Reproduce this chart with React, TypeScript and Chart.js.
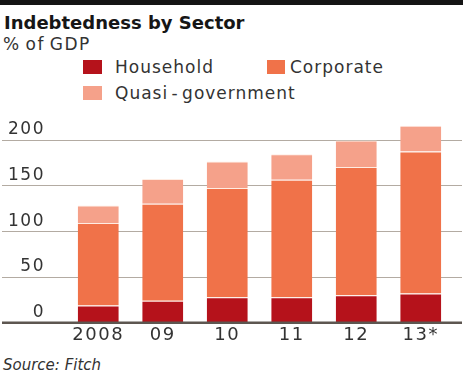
import { useEffect, useRef } from "react";
import { Chart, registerables } from "chart.js";

Chart.register(...registerables);

// ---- data ----
const categories = ["2008", "09", "10", "11", "12", "13*"];
const household = [19, 24, 28, 28, 30, 32];
const corporate = [90, 106, 119, 128, 140, 155];
const quasiGovernment = [19, 27, 29, 28, 29, 28];
const seriesLabels = ["Household", "Corporate", "Quasi - government"];
const yTickValues = [0, 50, 100, 150, 200];
const titleText = "Indebtedness by Sector";
const subtitleText = "% of GDP";
const sourceText = "Source: Fitch";

// ---- styles ----
const seriesColors = ["#b5121b", "#f07249", "#f5a18a"];
const FONT = "'DejaVu Sans', 'Liberation Sans', sans-serif";
const legendLayout = [
  { sx: 83, sy: 60, sw: 19, tx: 115, ty: 58.7 },
  { sx: 267, sy: 60, sw: 18, tx: 290, ty: 58.7 },
  { sx: 83, sy: 86, sw: 19, tx: 115, ty: 84.5 },
];

const gridPlugin = {
  id: "fullGrid",
  beforeDraw(chart: any) {
    chart.ctx.letterSpacing = "1.5px";
  },
  beforeDatasetsDraw(chart: any) {
    const { ctx } = chart;
    const y = chart.scales.y;
    ctx.save();
    ctx.letterSpacing = "0px";
    ctx.strokeStyle = "#b3aba2";
    ctx.lineWidth = 1;
    y.ticks.forEach((t: any) => {
      if (t.value === 0) return;
      const py = Math.round(y.getPixelForValue(t.value)) + 0.5;
      ctx.beginPath();
      ctx.moveTo(2, py);
      ctx.lineTo(462, py);
      ctx.stroke();
    });
    ctx.restore();
  },
  afterDatasetsDraw(chart: any) {
    const { ctx } = chart;
    const y = chart.scales.y;
    const py = y.getPixelForValue(0);
    ctx.save();
    ctx.strokeStyle = "#5d5650";
    ctx.lineWidth = 2.5;
    ctx.beginPath();
    ctx.moveTo(2, py);
    ctx.lineTo(462, py);
    ctx.stroke();
    ctx.restore();
  },
};

export default function App() {
  const canvasRef = useRef<HTMLCanvasElement | null>(null);

  useEffect(() => {
    if (!canvasRef.current) return;
    const seriesData = [household, corporate, quasiGovernment];
    const chart = new Chart(canvasRef.current, {
      type: "bar",
      data: {
        labels: categories,
        datasets: seriesData.map((d, i) => ({
          label: seriesLabels[i],
          data: d,
          backgroundColor: seriesColors[i],
          borderColor: "rgba(255,236,226,1)",
          borderWidth: { top: 1, left: 0, right: 0, bottom: 0 },
          borderSkipped: "start",
          barPercentage: 0.636,
          categoryPercentage: 1,
        })),
      },
      options: {
        responsive: false,
        maintainAspectRatio: false,
        animation: false,
        devicePixelRatio: 1,
        layout: { padding: { top: 4, right: 10, left: 0, bottom: 0 } },
        plugins: {
          legend: { display: false },
          title: { display: false },
          tooltip: { enabled: false },
        },
        scales: {
          x: {
            stacked: true,
            grid: { display: false, drawTicks: false },
            border: { display: false },
            ticks: {
              color: "#333333",
              font: { family: FONT, size: 18 },
              padding: 2,
              maxRotation: 0,
              autoSkip: false,
            },
            afterFit: (s: any) => {
              s.height = 30;
            },
          },
          y: {
            stacked: true,
            min: 0,
            max: 220,
            grid: { display: false, drawTicks: false },
            border: { display: false },
            ticks: {
              color: "#333333",
              font: { family: FONT, size: 17 },
              padding: 21,
              labelOffset: -10,
              includeBounds: false,
            },
            afterBuildTicks: (s: any) => {
              s.ticks = yTickValues.map((v) => ({ value: v }));
            },
            afterFit: (s: any) => {
              s.width = 66;
            },
          },
        },
      },
      plugins: [gridPlugin],
    } as any);
    return () => chart.destroy();
  }, []);

  const textBase: React.CSSProperties = {
    position: "absolute",
    fontFamily: FONT,
    lineHeight: 1,
    whiteSpace: "nowrap",
    margin: 0,
  };

  return (
    <div
      style={{
        position: "absolute",
        left: 0,
        top: 0,
        width: 463,
        height: 385,
        background: "#ffffff",
        overflow: "hidden",
      }}
    >
      <div style={{ position: "absolute", left: 0, top: 0, width: 463, height: 5, background: "#141414" }} />
      <div style={{ ...textBase, left: 4, top: 14, fontSize: 18, fontWeight: "bold", color: "#161616" }}>{titleText}</div>
      <div style={{ ...textBase, left: 3, top: 36.3, fontSize: 17, letterSpacing: "1.5px", wordSpacing: "-2px", color: "#333333" }}>{subtitleText}</div>
      {seriesLabels.map((lab, i) => (
        <div key={lab}>
          <div
            style={{
              position: "absolute",
              left: legendLayout[i].sx,
              top: legendLayout[i].sy,
              width: legendLayout[i].sw,
              height: 14,
              background: seriesColors[i],
            }}
          />
          <div
            style={{
              ...textBase,
              left: legendLayout[i].tx,
              top: legendLayout[i].ty,
              fontSize: 17,
              letterSpacing: "1px",
              wordSpacing: "-3px",
              color: "#333333",
            }}
          >
            {lab}
          </div>
        </div>
      ))}
      <div style={{ position: "absolute", left: 0, top: 90, width: 463, height: 264 }}>
        <canvas ref={canvasRef} width={463} height={264} style={{ display: "block" }} />
      </div>
      <div style={{ ...textBase, left: 3, top: 358, fontSize: 15, fontStyle: "italic", color: "#333333" }}>{sourceText}</div>
    </div>
  );
}
